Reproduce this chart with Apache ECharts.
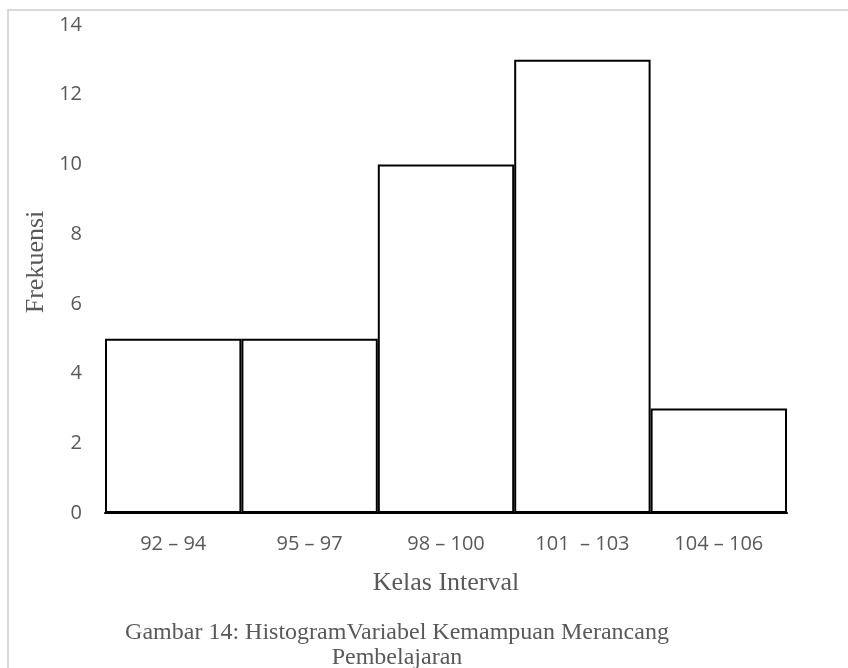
<!DOCTYPE html>
<html>
<head>
<meta charset="utf-8">
<script src="https://cdn.jsdelivr.net/npm/echarts@6/dist/echarts.min.js"></script>
<style>
  html, body { margin: 0; padding: 0; background: #fff; }
  #chart { width: 848px; height: 668px; }
</style>
</head>
<body>
<div id="chart"></div>
<script>
// kelas interval dan frekuensinya
const categories = ["92 – 94", "95 – 97", "98 – 100", "101  – 103", "104 – 106"];
const frekuensi = [5, 5, 10, 13, 3];
const yTicks = [0, 2, 4, 6, 8, 10, 12, 14];

const chart = echarts.init(document.getElementById("chart"));

chart.setOption({
  animation: false,
  grid: {
    left: 105,
    right: 61,
    top: 25,
    bottom: 155
  },
  xAxis: {
    type: "category",
    data: categories,
    axisLine: { show: true, lineStyle: { color: "#000", width: 2 } },
    axisTick: { show: false },
    axisLabel: {
      color: "#595959",
      fontFamily: "Open Sans",
      fontSize: 20,
      margin: 21
    }
  },
  yAxis: {
    type: "value",
    min: yTicks[0],
    max: yTicks[yTicks.length - 1],
    interval: 2,
    axisLine: { show: false },
    axisTick: { show: false },
    splitLine: { show: false },
    axisLabel: {
      color: "#595959",
      fontFamily: "Open Sans",
      fontSize: 20,
      margin: 23
    }
  },
  series: [
    {
      name: "Frekuensi",
      type: "bar",
      data: frekuensi,
      barWidth: "100%",
      barCategoryGap: 0,
      itemStyle: {
        color: "#fff",
        borderColor: "#000",
        borderWidth: 2
      }
    }
  ],
  graphic: [
    {
      type: "rect",
      shape: { x: 8, y: 10, width: 900, height: 700 },
      style: { fill: "none", stroke: "#d9d9d9", lineWidth: 2 },
      silent: true
    },
    {
      type: "text",
      x: 36,
      y: 262,
      rotation: Math.PI / 2,
      style: {
        text: "Frekuensi",
        fill: "#595959",
        font: "26px 'Liberation Serif'",
        align: "center",
        verticalAlign: "middle"
      }
    },
    {
      type: "text",
      x: 446,
      y: 583,
      style: {
        text: "Kelas Interval",
        fill: "#595959",
        font: "26px 'Liberation Serif'",
        align: "center",
        verticalAlign: "middle"
      }
    },
    {
      type: "text",
      x: 397,
      y: 620,
      style: {
        text: "Gambar 14: HistogramVariabel Kemampuan Merancang\nPembelajaran",
        fill: "#595959",
        font: "24px 'Liberation Serif'",
        lineHeight: 25,
        align: "center",
        verticalAlign: "top"
      }
    }
  ]
});
</script>
</body>
</html>
